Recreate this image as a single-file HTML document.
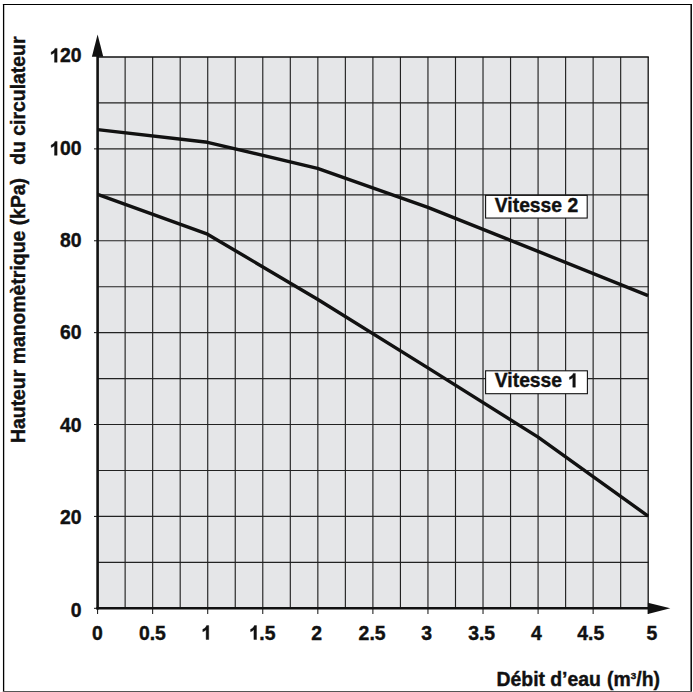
<!DOCTYPE html>
<html><head><meta charset="utf-8"><style>
html,body{margin:0;padding:0;background:#fff;width:693px;height:692px;overflow:hidden}
svg{display:block}
.b{font-family:"Liberation Sans",sans-serif;font-weight:bold;fill:#111;stroke:#111;stroke-width:0.4px}
.h{fill:none;stroke:none}
.one1{fill:#111;stroke:#111;stroke-width:42px}
</style></head><body>
<svg width="693" height="692" viewBox="0 0 693 692">
<rect x="97.60" y="57.00" width="550.60" height="551.30" fill="#e5e6e8"/>
<line x1="125.13" y1="57.00" x2="125.13" y2="608.30" stroke="#222222" stroke-width="1.15"/>
<line x1="152.66" y1="57.00" x2="152.66" y2="608.30" stroke="#222222" stroke-width="1.15"/>
<line x1="180.19" y1="57.00" x2="180.19" y2="608.30" stroke="#222222" stroke-width="1.15"/>
<line x1="207.72" y1="57.00" x2="207.72" y2="608.30" stroke="#222222" stroke-width="1.15"/>
<line x1="235.25" y1="57.00" x2="235.25" y2="608.30" stroke="#222222" stroke-width="1.15"/>
<line x1="262.78" y1="57.00" x2="262.78" y2="608.30" stroke="#222222" stroke-width="1.15"/>
<line x1="290.31" y1="57.00" x2="290.31" y2="608.30" stroke="#222222" stroke-width="1.15"/>
<line x1="317.84" y1="57.00" x2="317.84" y2="608.30" stroke="#222222" stroke-width="1.15"/>
<line x1="345.37" y1="57.00" x2="345.37" y2="608.30" stroke="#222222" stroke-width="1.15"/>
<line x1="372.90" y1="57.00" x2="372.90" y2="608.30" stroke="#222222" stroke-width="1.15"/>
<line x1="400.43" y1="57.00" x2="400.43" y2="608.30" stroke="#222222" stroke-width="1.15"/>
<line x1="427.96" y1="57.00" x2="427.96" y2="608.30" stroke="#222222" stroke-width="1.15"/>
<line x1="455.49" y1="57.00" x2="455.49" y2="608.30" stroke="#222222" stroke-width="1.15"/>
<line x1="483.02" y1="57.00" x2="483.02" y2="608.30" stroke="#222222" stroke-width="1.15"/>
<line x1="510.55" y1="57.00" x2="510.55" y2="608.30" stroke="#222222" stroke-width="1.15"/>
<line x1="538.08" y1="57.00" x2="538.08" y2="608.30" stroke="#222222" stroke-width="1.15"/>
<line x1="565.61" y1="57.00" x2="565.61" y2="608.30" stroke="#222222" stroke-width="1.15"/>
<line x1="593.14" y1="57.00" x2="593.14" y2="608.30" stroke="#222222" stroke-width="1.15"/>
<line x1="620.67" y1="57.00" x2="620.67" y2="608.30" stroke="#222222" stroke-width="1.15"/>
<line x1="648.20" y1="57.00" x2="648.20" y2="608.30" stroke="#111" stroke-width="1.3"/>
<line x1="97.60" y1="562.36" x2="648.80" y2="562.36" stroke="#222222" stroke-width="1.15"/>
<line x1="97.60" y1="516.42" x2="648.80" y2="516.42" stroke="#222222" stroke-width="1.15"/>
<line x1="97.60" y1="470.47" x2="648.80" y2="470.47" stroke="#222222" stroke-width="1.15"/>
<line x1="97.60" y1="424.53" x2="648.80" y2="424.53" stroke="#222222" stroke-width="1.15"/>
<line x1="97.60" y1="378.59" x2="648.80" y2="378.59" stroke="#222222" stroke-width="1.15"/>
<line x1="97.60" y1="332.65" x2="648.80" y2="332.65" stroke="#222222" stroke-width="1.15"/>
<line x1="97.60" y1="286.71" x2="648.80" y2="286.71" stroke="#222222" stroke-width="1.15"/>
<line x1="97.60" y1="240.77" x2="648.80" y2="240.77" stroke="#222222" stroke-width="1.15"/>
<line x1="97.60" y1="194.82" x2="648.80" y2="194.82" stroke="#222222" stroke-width="1.15"/>
<line x1="97.60" y1="148.88" x2="648.80" y2="148.88" stroke="#222222" stroke-width="1.15"/>
<line x1="97.60" y1="102.94" x2="648.80" y2="102.94" stroke="#222222" stroke-width="1.15"/>
<line x1="97.60" y1="57.00" x2="648.80" y2="57.00" stroke="#111" stroke-width="1.3"/>
<line x1="94" y1="608.30" x2="97.60" y2="608.30" stroke="#111111" stroke-width="1"/>
<line x1="94" y1="516.42" x2="97.60" y2="516.42" stroke="#111111" stroke-width="1"/>
<line x1="94" y1="424.53" x2="97.60" y2="424.53" stroke="#111111" stroke-width="1"/>
<line x1="94" y1="332.65" x2="97.60" y2="332.65" stroke="#111111" stroke-width="1"/>
<line x1="94" y1="240.77" x2="97.60" y2="240.77" stroke="#111111" stroke-width="1"/>
<line x1="94" y1="148.88" x2="97.60" y2="148.88" stroke="#111111" stroke-width="1"/>
<line x1="97.60" y1="608.30" x2="97.60" y2="614" stroke="#111111" stroke-width="1"/>
<line x1="152.66" y1="608.30" x2="152.66" y2="614" stroke="#111111" stroke-width="1"/>
<line x1="207.72" y1="608.30" x2="207.72" y2="614" stroke="#111111" stroke-width="1"/>
<line x1="262.78" y1="608.30" x2="262.78" y2="614" stroke="#111111" stroke-width="1"/>
<line x1="317.84" y1="608.30" x2="317.84" y2="614" stroke="#111111" stroke-width="1"/>
<line x1="372.90" y1="608.30" x2="372.90" y2="614" stroke="#111111" stroke-width="1"/>
<line x1="427.96" y1="608.30" x2="427.96" y2="614" stroke="#111111" stroke-width="1"/>
<line x1="483.02" y1="608.30" x2="483.02" y2="614" stroke="#111111" stroke-width="1"/>
<line x1="538.08" y1="608.30" x2="538.08" y2="614" stroke="#111111" stroke-width="1"/>
<line x1="593.14" y1="608.30" x2="593.14" y2="614" stroke="#111111" stroke-width="1"/>
<line x1="648.20" y1="608.30" x2="648.20" y2="614" stroke="#111111" stroke-width="1"/>
<line x1="97.60" y1="609.50" x2="97.60" y2="45" stroke="#111111" stroke-width="2.6"/>
<line x1="96.40" y1="608.30" x2="660" y2="608.30" stroke="#111111" stroke-width="2.6"/>
<polygon points="97.60,34.5 103.3,56.8 91.9,56.8" fill="#111111"/>
<polygon points="670.3,608.30 647.9,602.7 647.9,614" fill="#111111"/>
<polyline points="97.6,129.6 207.5,142.3 317.5,168.4 427.9,207.3 538.1,251.4 648.1,295.6" fill="none" stroke="#111111" stroke-width="3.4" stroke-linejoin="round"/>
<polyline points="97.6,194.4 207.5,234.2 317.5,299.2 427.9,367.9 538.1,437.1 648.1,516.1" fill="none" stroke="#111111" stroke-width="3.4" stroke-linejoin="round"/>
<rect x="485.6" y="195.35" width="101.6" height="22.7" fill="#fff" stroke="#111111" stroke-width="1.1"/>
<text x="536.5" y="211.6" text-anchor="middle" class="b" font-size="19.3">Vitesse 2</text>
<rect x="485.6" y="370.8" width="101.8" height="22.9" fill="#fff" stroke="#111111" stroke-width="1.1"/>
<text class="b one" x="536.5" y="387.2" text-anchor="middle" font-size="19.3">Vitesse <tspan class="h">1</tspan></text>
<text x="81.5" y="617.10" text-anchor="end" class="b" font-size="19.4">0</text>
<text x="81.5" y="524.40" text-anchor="end" class="b" font-size="19.4">20</text>
<text x="81.5" y="432.30" text-anchor="end" class="b" font-size="19.4">40</text>
<text x="81.5" y="338.90" text-anchor="end" class="b" font-size="19.4">60</text>
<text x="81.5" y="247.30" text-anchor="end" class="b" font-size="19.4">80</text>
<text x="81.5" y="155.30" text-anchor="end" class="b one" font-size="19.4"><tspan class="h">1</tspan>00</text>
<text x="81.5" y="62.30" text-anchor="end" class="b one" font-size="19.4"><tspan class="h">1</tspan>20</text>
<text x="97.30" y="639.5" text-anchor="middle" class="b" font-size="19.4">0</text>
<text x="152.40" y="639.5" text-anchor="middle" class="b" font-size="19.4">0.5</text>
<text x="206.15" y="639.5" text-anchor="middle" class="b one" font-size="19.4"><tspan class="h">1</tspan></text>
<text x="262.00" y="639.5" text-anchor="middle" class="b one" font-size="19.4"><tspan class="h">1</tspan>.5</text>
<text x="316.60" y="639.5" text-anchor="middle" class="b" font-size="19.4">2</text>
<text x="372.10" y="639.5" text-anchor="middle" class="b" font-size="19.4">2.5</text>
<text x="426.65" y="639.5" text-anchor="middle" class="b" font-size="19.4">3</text>
<text x="481.65" y="639.5" text-anchor="middle" class="b" font-size="19.4">3.5</text>
<text x="536.50" y="639.5" text-anchor="middle" class="b" font-size="19.4">4</text>
<text x="590.80" y="639.5" text-anchor="middle" class="b" font-size="19.4">4.5</text>
<text x="651.80" y="639.5" text-anchor="middle" class="b" font-size="19.4">5</text>
<text y="685.8" class="b" font-size="19.4"><tspan x="496.5">Débit</tspan><tspan x="550.2">d’eau</tspan><tspan x="607.1">(m</tspan><tspan font-size="9.8" dy="-6.6">3</tspan><tspan dy="6.6">/h)</tspan></text>
<text transform="translate(24.8,443) rotate(-90)" x="0" y="0" class="b" font-size="19.4" xml:space="preserve">Hauteur manomètrique (kPa)  <tspan dx="2.4">du circulateur</tspan></text>
<path class="one1" transform="translate(567.41,387.20) scale(0.009424,-0.009424)" d="M844,0H569V1036Q418,895 217,828V1078Q323,1113 447,1210Q571,1307 617,1466H844Z"/>
<path class="one1" transform="translate(49.12,155.30) scale(0.009473,-0.009473)" d="M844,0H569V1036Q418,895 217,828V1078Q323,1113 447,1210Q571,1307 617,1466H844Z"/>
<path class="one1" transform="translate(49.12,62.30) scale(0.009473,-0.009473)" d="M844,0H569V1036Q418,895 217,828V1078Q323,1113 447,1210Q571,1307 617,1466H844Z"/>
<path class="one1" transform="translate(200.75,639.50) scale(0.009473,-0.009473)" d="M844,0H569V1036Q418,895 217,828V1078Q323,1113 447,1210Q571,1307 617,1466H844Z"/>
<path class="one1" transform="translate(248.52,639.50) scale(0.009473,-0.009473)" d="M844,0H569V1036Q418,895 217,828V1078Q323,1113 447,1210Q571,1307 617,1466H844Z"/>
<line x1="2.9" y1="4.5" x2="692" y2="4.5" stroke="#000" stroke-width="1.2"/>
<line x1="3.6" y1="3.9" x2="3.6" y2="692" stroke="#000" stroke-width="1.3"/>
<line x1="691.2" y1="3.9" x2="691.2" y2="692" stroke="#000" stroke-width="1.5"/>
<line x1="2.9" y1="691.5" x2="692" y2="691.5" stroke="#555" stroke-width="1"/>
</svg>
</body></html>
